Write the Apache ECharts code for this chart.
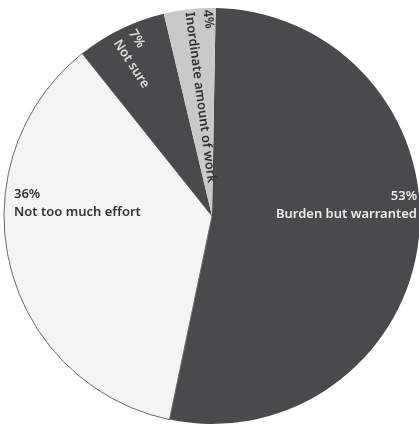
<!DOCTYPE html>
<html>
<head>
<meta charset="utf-8">
<script src="https://cdn.jsdelivr.net/npm/echarts@6/dist/echarts.min.js"></script>
<style>
  html, body { margin: 0; padding: 0; background: #ffffff; }
  #chart { width: 419px; height: 426px; }
</style>
</head>
<body>
<div id="chart"></div>
<script>
// Survey answers, clockwise from twelve o'clock
const categories = ['Burden but warranted', 'Not too much effort', 'Not sure', 'Inordinate amount of work'];
const shares = [53, 36, 7, 4];

// Slice fills and label colours
const sliceColors = ['#4a4a4c', '#f4f4f4', '#4a4a4c', '#c9c9c9'];
const labelColors = ['#ececec', '#333333', '#dcdcdc', '#333333'];

// Label placement: anchor point, alignment and rotation for each slice
const labelPlacement = [
  { x: 417, y: 205, align: 'right', rotate: 0 },
  { x: 14,  y: 203, align: 'left',  rotate: 0 },
  { x: 124, y: 36,  align: 'left',  rotate: -57 },
  { x: 198, y: 11,  align: 'left',  rotate: -82.5 }
];

const chart = echarts.init(document.getElementById('chart'), null, { renderer: 'canvas' });

chart.setOption({
  backgroundColor: '#ffffff',
  animation: false,
  series: [{
    type: 'pie',
    center: [212, 216],
    radius: 208,
    startAngle: 89,
    clockwise: true,
    silent: true,
    label: {
      show: true,
      position: 'inside',
      fontFamily: 'Noto Sans',
      fontWeight: 600,
      fontSize: 13,
      lineHeight: 18,
      formatter: p => p.value + '%\n' + p.name
    },
    labelLine: { show: false },
    labelLayout: params => {
      const p = labelPlacement[params.dataIndex];
      return { x: p.x, y: p.y, align: p.align, verticalAlign: 'middle', rotate: p.rotate };
    },
    data: categories.map((name, i) => ({
      name: name,
      value: shares[i],
      itemStyle: {
        color: sliceColors[i],
        borderColor: i === 1 ? '#6a6a6a' : sliceColors[i],
        borderWidth: i === 1 ? 1 : 0
      },
      label: { color: labelColors[i] }
    }))
  }]
});
</script>
</body>
</html>
